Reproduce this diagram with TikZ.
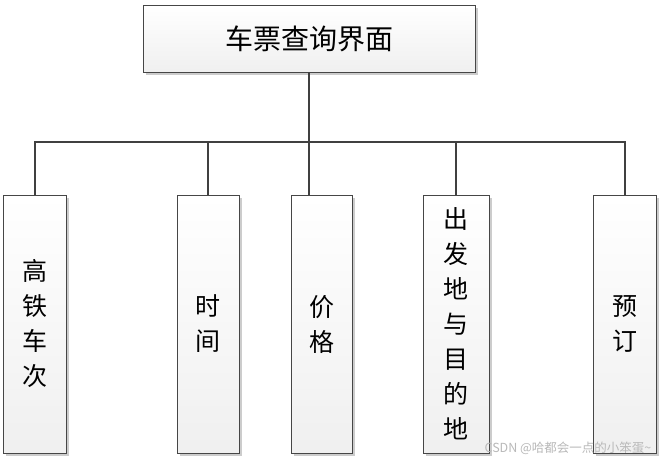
\documentclass[tikz,border=0pt]{standalone}
\usepackage{fontspec}
\newfontfamily\cjk{Noto Sans CJK SC}
\usetikzlibrary{positioning, shadows}
\definecolor{linegray}{RGB}{64, 64, 64}
\definecolor{boxedge}{RGB}{70, 70, 70}

\begin{document}
\begin{tikzpicture}[
            x=1pt, y=-1pt,
            box/.style={draw=boxedge, semithick, top color=white, bottom color=gray!12, drop shadow={shadow xshift=3pt, shadow yshift=-3pt, fill=gray!40, opacity=1}, inner sep=0pt, align=center, font=\cjk\fontsize{25}{35}\selectfont},
            leaf/.style={box, minimum height=258pt},
            link/.style={draw=linegray, line width=2pt}
        ]
            \useasboundingbox[fill=white] (0,0) rectangle (664,462);

            \node[box, minimum width=332pt, minimum height=67pt, font=\cjk\fontsize{28}{30}\selectfont] (title) at (309,38.5) {车票查询界面};

            \node[leaf, minimum width=63pt] (train) at (34.5,324) {高\\铁\\车\\次};
            \node[leaf, minimum width=62pt] (time) at (208,324) {时\\间};
            \node[leaf, minimum width=61pt] (price) at (321.5,324) {价\\格};
            \node[leaf, minimum width=66pt] (route) at (456,324) {出\\发\\地\\与\\目\\的\\地};
            \node[leaf, minimum width=63pt] (book) at (624.5,324) {预\\订};

            \draw[link] (title.south) -- ++(0,70) -| (train.north);
            \draw[link] (title.south) -- ++(0,70) -| (time.north);
            \draw[link] (title.south) -- (title.south |- price.north);
            \draw[link] (title.south) -- ++(0,70) -| (route.north);
            \draw[link] (title.south) -- ++(0,70) -| (book.north);

            \node[text=gray!55, font=\cjk\fontsize{12.5}{14}\selectfont] (mark) at (568,448) {CSDN @哈都会一点的小笨蛋\textasciitilde};
        \end{tikzpicture}
\end{document}
